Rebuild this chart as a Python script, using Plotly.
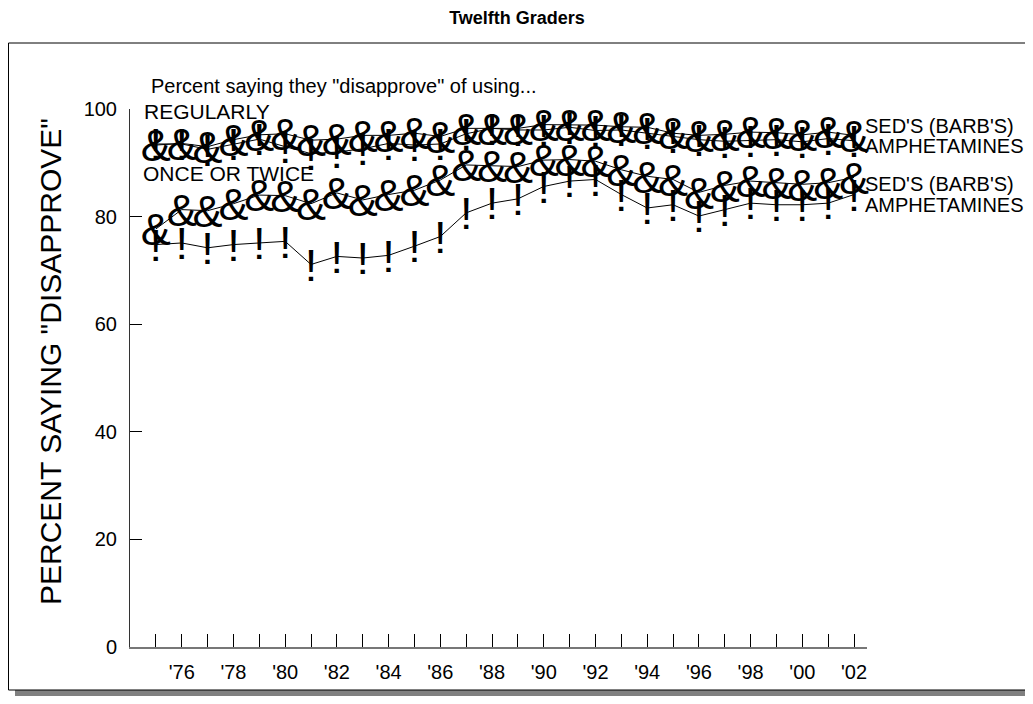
import plotly.graph_objects as go

years = list(range(1975, 2003))

# percent saying they "disapprove"
sed_regular = [93.3, 93.6, 93.0, 94.3, 95.2, 95.4, 94.2, 94.4, 95.1, 95.1,
               95.5, 94.9, 96.4, 96.4, 96.4, 97.1, 97.0, 97.0, 96.7, 96.6,
               95.5, 95.1, 95.3, 95.7, 95.6, 95.2, 95.7, 95.1]
amph_regular = [93.5, 93.5, 92.5, 93.5, 94.4, 93.0, 91.7, 92.0, 92.6, 93.6,
                93.3, 93.5, 95.4, 96.4, 96.1, 96.1, 96.6, 96.0, 96.1, 95.5,
                94.9, 94.3, 94.0, 94.1, 94.3, 93.9, 94.5, 94.1]
sed_once = [77.7, 81.3, 81.1, 82.4, 84.0, 83.9, 82.4, 84.4, 83.1, 84.1,
            84.9, 86.8, 89.6, 89.4, 89.3, 90.5, 90.6, 90.3, 88.7, 87.5,
            86.9, 84.5, 85.8, 86.6, 86.3, 86.0, 86.3, 87.3]
amph_once = [74.8, 75.1, 74.2, 74.8, 75.1, 75.4, 71.1, 72.6, 72.3, 72.8,
             74.5, 76.3, 80.7, 82.5, 83.3, 85.6, 86.6, 86.9, 84.1, 81.6,
             82.2, 80.1, 81.3, 82.5, 82.2, 82.2, 82.5, 84.1]

tick_text = ["'%02d" % (y % 100) if y % 2 == 0 else "" for y in years]

FONT = "Liberation Sans, Arial"

# the page puts the figure 8px in from the corner; positions below are page pixels
OFF = 8
W, H = 1033 - 2 * OFF, 704 - 2 * OFF
L, R, T, B = 130, 867, 109, 647   # plot area on the page


def px(x):
    return (x - L) / (R - L)


def py(y):
    return (B - y) / (B - T)


fig = go.Figure()

series = [
    (sed_regular, "&amp;"),
    (amph_regular, "!"),
    (sed_once, "&amp;"),
    (amph_once, "!"),
]
for vals, glyph in series:
    fig.add_trace(go.Scatter(x=years, y=vals, mode="lines",
                             line=dict(color="black", width=1),
                             hoverinfo="skip"))
    # symbol glyphs sit a little low on the point in the original
    fig.add_trace(go.Scatter(x=years, y=vals, mode="text",
                             text=['<span style="baseline-shift:-5px">%s</span>' % glyph] * len(years),
                             textposition="middle center",
                             textfont=dict(family=FONT, size=45, color="black"),
                             cliponaxis=False, hoverinfo="skip"))


def label(x, y, text, size, **kw):
    d = dict(x=px(x), y=py(y), xref="paper", yref="paper", xanchor="left", yanchor="middle",
             text=text, showarrow=False, font=dict(family=FONT, size=size, color="black"))
    d.update(kw)
    return d


ann = [
    label(149, 86, 'Percent saying they "disapprove" of using...', 20),
    label(50, 362, 'PERCENT SAYING "DISAPPROVE"', 30, xanchor="center", textangle=-90),
    label(142, 111, "REGULARLY", 21),
    label(141, 173, "ONCE OR TWICE", 21),
    label(863, 126, "SED'S (BARB'S)", 20),
    label(863, 146, "AMPHETAMINES", 20),
    label(863, 184, "SED'S (BARB'S)", 20),
    label(863, 205, "AMPHETAMINES", 20),
]

shapes = [
    # drop shadow under the frame
    dict(type="rect", xref="paper", yref="paper", x0=px(15), x1=px(1045), y0=py(703), y1=py(690),
         fillcolor="#808080", line=dict(width=0), layer="below"),
    # frame
    dict(type="rect", xref="paper", yref="paper", x0=px(8.5), x1=px(1031), y0=py(690), y1=py(43),
         line=dict(color="black", width=1), fillcolor="white", layer="below"),
]

fig.update_layout(
    width=W, height=H,
    margin=dict(l=L - OFF, r=W - (R - OFF), t=T - OFF, b=H - (B - OFF)),
    paper_bgcolor="white", plot_bgcolor="rgba(0,0,0,0)",
    showlegend=False,
    font=dict(family=FONT, color="black"),
    title=dict(text="<b>Twelfth Graders</b>", x=(517 - OFF) / W, xanchor="center",
               y=1 - (18 - OFF) / H, yanchor="middle",
               font=dict(family=FONT, size=18, color="black")),
    annotations=ann,
    shapes=shapes,
    xaxis=dict(range=[1974, 2002.5], tickvals=years, ticktext=tick_text,
               ticks="inside", ticklen=13, tickcolor="black", tickwidth=1,
               showline=True, linecolor="#777", linewidth=2, showgrid=False, zeroline=False,
               tickfont=dict(size=20), ticklabelstandoff=6),
    yaxis=dict(range=[0, 100], tickvals=[0, 20, 40, 60, 80, 100],
               ticks="inside", ticklen=12, tickcolor="black", tickwidth=1,
               showline=True, linecolor="#333", linewidth=1, showgrid=False, zeroline=False,
               tickfont=dict(size=20), ticklabelstandoff=8),
)

fig.write_html("out.html")
